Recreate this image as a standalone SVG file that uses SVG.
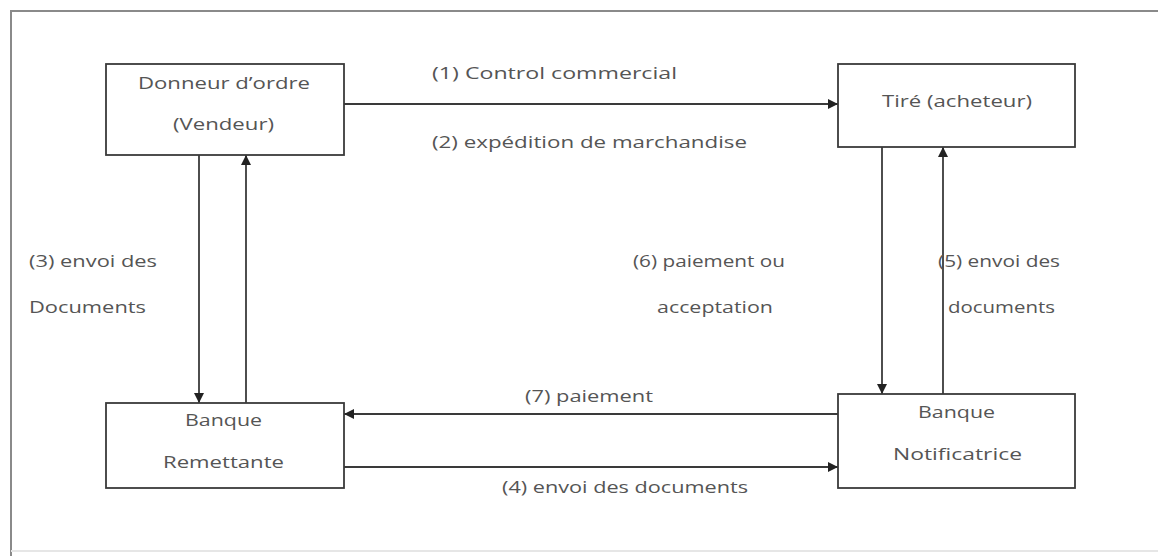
<svg xmlns="http://www.w3.org/2000/svg" width="1158" height="556" viewBox="0 0 1158 556">
  <style>
    .frame { fill: none; stroke: #8a8a8a; stroke-width: 2; }
    .box { fill: #ffffff; stroke: #3a3a3a; stroke-width: 1.8; }
    .conn { fill: none; stroke: #3a3a3a; stroke-width: 1.8; marker-end: url(#arrow); }
    text { font-family: "Open Sans", "Liberation Sans", sans-serif; font-size: 17px; fill: #555555; }
  </style>
  <defs>
    <marker id="arrow" viewBox="0 0 10 10" refX="10" refY="5" markerWidth="12" markerHeight="10" markerUnits="userSpaceOnUse" orient="auto">
      <path d="M0,0 L10,5 L0,10 z" fill="#222222"/>
    </marker>
  </defs>
  <rect width="1158" height="556" fill="#ffffff"/>
  <path class="frame" d="M1158,11 H11 V556"/>
  <line x1="11" y1="551" x2="1158" y2="551" stroke="#e6e6e6" stroke-width="2"/>

  <g id="connectors">
    <line class="conn" x1="344" y1="104" x2="838" y2="104"/>
    <line class="conn" x1="199" y1="155" x2="199" y2="403"/>
    <line class="conn" x1="246" y1="403" x2="246" y2="155"/>
    <line class="conn" x1="882" y1="147" x2="882" y2="394"/>
    <line class="conn" x1="943" y1="394" x2="943" y2="147"/>
    <line class="conn" x1="838" y1="414" x2="344" y2="414"/>
    <line class="conn" x1="344" y1="467" x2="838" y2="467"/>
    <text x="432" y="79" textLength="245" lengthAdjust="spacingAndGlyphs">(1)  Control commercial</text>
    <text x="432" y="148" textLength="315" lengthAdjust="spacingAndGlyphs">(2)  expédition de marchandise</text>
    <text x="29" y="267" textLength="128" lengthAdjust="spacingAndGlyphs">(3) envoi des</text>
    <text x="29" y="313" textLength="117" lengthAdjust="spacingAndGlyphs">Documents</text>
    <text x="633" y="267" textLength="152" lengthAdjust="spacingAndGlyphs">(6) paiement ou</text>
    <text x="657" y="313" textLength="116" lengthAdjust="spacingAndGlyphs">acceptation</text>
    <text x="938" y="267" textLength="122" lengthAdjust="spacingAndGlyphs">(5) envoi des</text>
    <text x="948" y="313" textLength="107" lengthAdjust="spacingAndGlyphs">documents</text>
    <text x="525" y="402" textLength="128" lengthAdjust="spacingAndGlyphs">(7) paiement</text>
    <text x="502" y="493" textLength="246" lengthAdjust="spacingAndGlyphs">(4) envoi des documents</text>
  </g>

  <g id="donneur">
    <rect class="box" x="106" y="64" width="238" height="91"/>
    <text x="138" y="89" textLength="172" lengthAdjust="spacingAndGlyphs">Donneur d’ordre</text>
    <text x="173" y="130" textLength="101" lengthAdjust="spacingAndGlyphs">(Vendeur)</text>
  </g>
  <g id="tire">
    <rect class="box" x="838" y="64" width="237" height="83"/>
    <text x="882" y="107" textLength="150" lengthAdjust="spacingAndGlyphs">Tiré (acheteur)</text>
  </g>
  <g id="remettante">
    <rect class="box" x="106" y="403" width="238" height="85"/>
    <text x="185" y="426" textLength="77" lengthAdjust="spacingAndGlyphs">Banque</text>
    <text x="163" y="468" textLength="121" lengthAdjust="spacingAndGlyphs">Remettante</text>
  </g>
  <g id="notificatrice">
    <rect class="box" x="838" y="394" width="237" height="94"/>
    <text x="918" y="418" textLength="77" lengthAdjust="spacingAndGlyphs">Banque</text>
    <text x="893" y="460" textLength="129" lengthAdjust="spacingAndGlyphs">Notificatrice</text>
  </g>
</svg>
